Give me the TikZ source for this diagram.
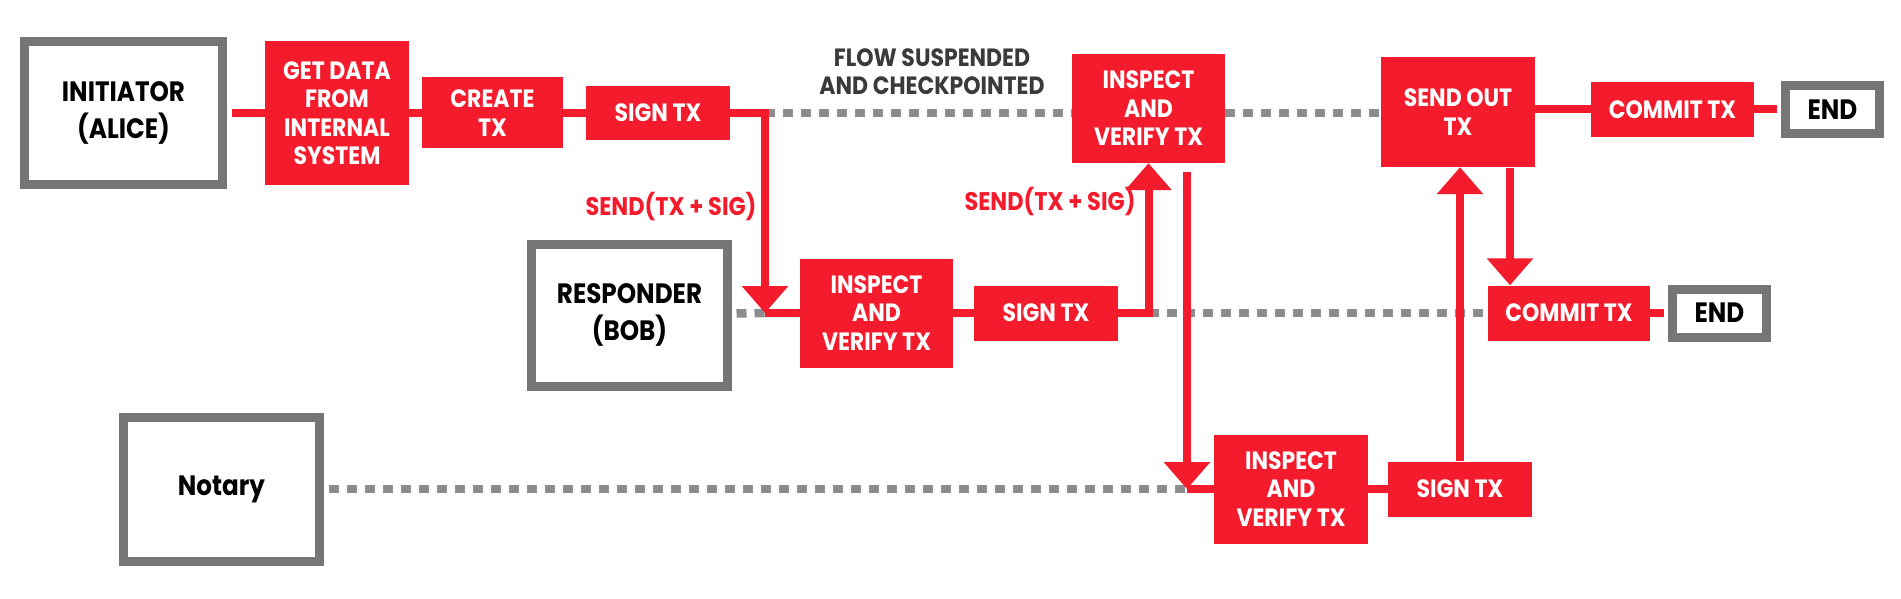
\documentclass[tikz,border=0pt]{standalone}
\usepackage{fontspec}
\setmainfont{Poppins}[FakeStretch=0.88]
\usetikzlibrary{arrows.meta}
\definecolor{flowred}{HTML}{F31B2C}
\definecolor{boxgray}{HTML}{767676}
\definecolor{dotgray}{HTML}{8C8C8C}
\definecolor{notegray}{HTML}{3A3A3A}

\begin{document}
\begin{tikzpicture}[x=1pt, y=-1pt, >={Triangle[width=45pt,length=27pt]},
  party/.style={draw=boxgray, line width=9pt, fill=white, inner sep=0pt,
    align=center, font=\bfseries\fontsize{28}{37}\selectfont},
  stepbox/.style={fill=flowred, text=white, inner sep=0pt,
    align=center, font=\bfseries\fontsize{25}{28.5}\selectfont},
  endbox/.style={party, minimum width=94pt, minimum height=48pt},
  link/.style={flowred, line width=8pt},
  wait/.style={dotgray, line width=8.5pt, dash pattern=on 10pt off 8pt},
  msg/.style={text=flowred, font=\bfseries\fontsize{25.5}{28}\selectfont}]
  \useasboundingbox (0,0) rectangle (1901,599);

  % parties
  \node[party, minimum width=198pt, minimum height=142pt] (alice) at (123.5,113) {INITIATOR\\(ALICE)};
  \node[party, minimum width=196pt, minimum height=142pt] (bob) at (629.5,315) {RESPONDER\\(BOB)};
  \node[party, minimum width=196pt, minimum height=144pt] (notary) at (221.5,489) {Notary};

  % initiator steps
  \node[stepbox, minimum width=144pt, minimum height=144pt] (getdata) at (337,113) {GET DATA\\FROM\\INTERNAL\\SYSTEM};
  \node[stepbox, minimum width=141pt, minimum height=71pt] (create) at (492.5,113) {CREATE\\TX};
  \node[stepbox, minimum width=144pt, minimum height=54pt] (signA) at (658,113) {SIGN TX};
  \node[stepbox, minimum width=153pt, minimum height=109pt] (inspA) at (1148.5,108.5) {INSPECT\\AND\\VERIFY TX};
  \node[stepbox, minimum width=154pt, minimum height=110pt] (sendout) at (1458,112) {SEND OUT\\TX};
  \node[stepbox, minimum width=163pt, minimum height=55pt] (commitA) at (1672.5,109.5) {COMMIT TX};
  \node[endbox] (endA) at (1832.5,109.5) {END};

  % responder steps
  \node[stepbox, minimum width=153pt, minimum height=109pt] (inspB) at (876.5,313) {INSPECT\\AND\\VERIFY TX};
  \node[stepbox, minimum width=144pt, minimum height=55pt] (signB) at (1046,313) {SIGN TX};
  \node[stepbox, minimum width=162pt, minimum height=55pt] (commitB) at (1569,313) {COMMIT TX};
  \node[endbox] (endB) at (1719.5,313) {END};

  % notary steps
  \node[stepbox, minimum width=154pt, minimum height=109pt] (inspC) at (1291,489) {INSPECT\\AND\\VERIFY TX};
  \node[stepbox, minimum width=144pt, minimum height=55pt] (signC) at (1460,489) {SIGN TX};

  % labels
  \node[text=notegray, align=center, font=\bfseries\fontsize{25}{28}\selectfont] (paused) at (932,72) {FLOW SUSPENDED\\AND CHECKPOINTED};
  \node[msg, anchor=east] (sendBob) at (760,207) {SEND(TX + SIG)};
  \node[msg, anchor=east] (sendAlice) at (1139,202) {SEND(TX + SIG)};

  \coordinate (turnA) at (765,113);
  \coordinate (turnB) at (inspA.south |- signB.east);
  \coordinate (dropA) at (1187,172);
  \coordinate (dropB) at (1510,168);

  % waiting lines
  \draw[wait] (turnA) -- (turnA -| inspA.west);
  \draw[wait] (inspA.east |- turnA) -- (sendout.west |- turnA);
  \draw[wait, shorten <=4.5pt] (bob) -- (turnA |- inspB);
  \draw[wait] (turnB) -- (commitB);
  \draw[wait, shorten <=4.5pt] (notary) -- (dropA |- inspC);

  % flow
  \draw[link, shorten <=4.5pt] (alice) -- (getdata);
  \draw[link] (getdata) -- (create);
  \draw[link] (create) -- (signA);
  \draw[link, ->] (signA) -- (turnA) -- (turnA |- inspB);
  \draw[link] (turnA |- inspB) -- (inspB);
  \draw[link] (inspB) -- (signB);
  \draw[link, ->] (signB) -- (turnB) -- (inspA.south);
  \draw[link, ->] (dropA) -- (dropA |- inspC);
  \draw[link] (dropA |- inspC) -- (inspC);
  \draw[link] (inspC) -- (signC);
  \draw[link, ->] (signC.north) -- (signC.north |- sendout.south);
  \draw[link, ->] (dropB) -- (dropB |- commitB.north);
  \draw[link] (commitA.west -| sendout.east) -- (commitA);
  \draw[link, shorten >=4.5pt] (commitA) -- (endA);
  \draw[link, shorten >=4.5pt] (commitB) -- (endB);
\end{tikzpicture}
\end{document}
